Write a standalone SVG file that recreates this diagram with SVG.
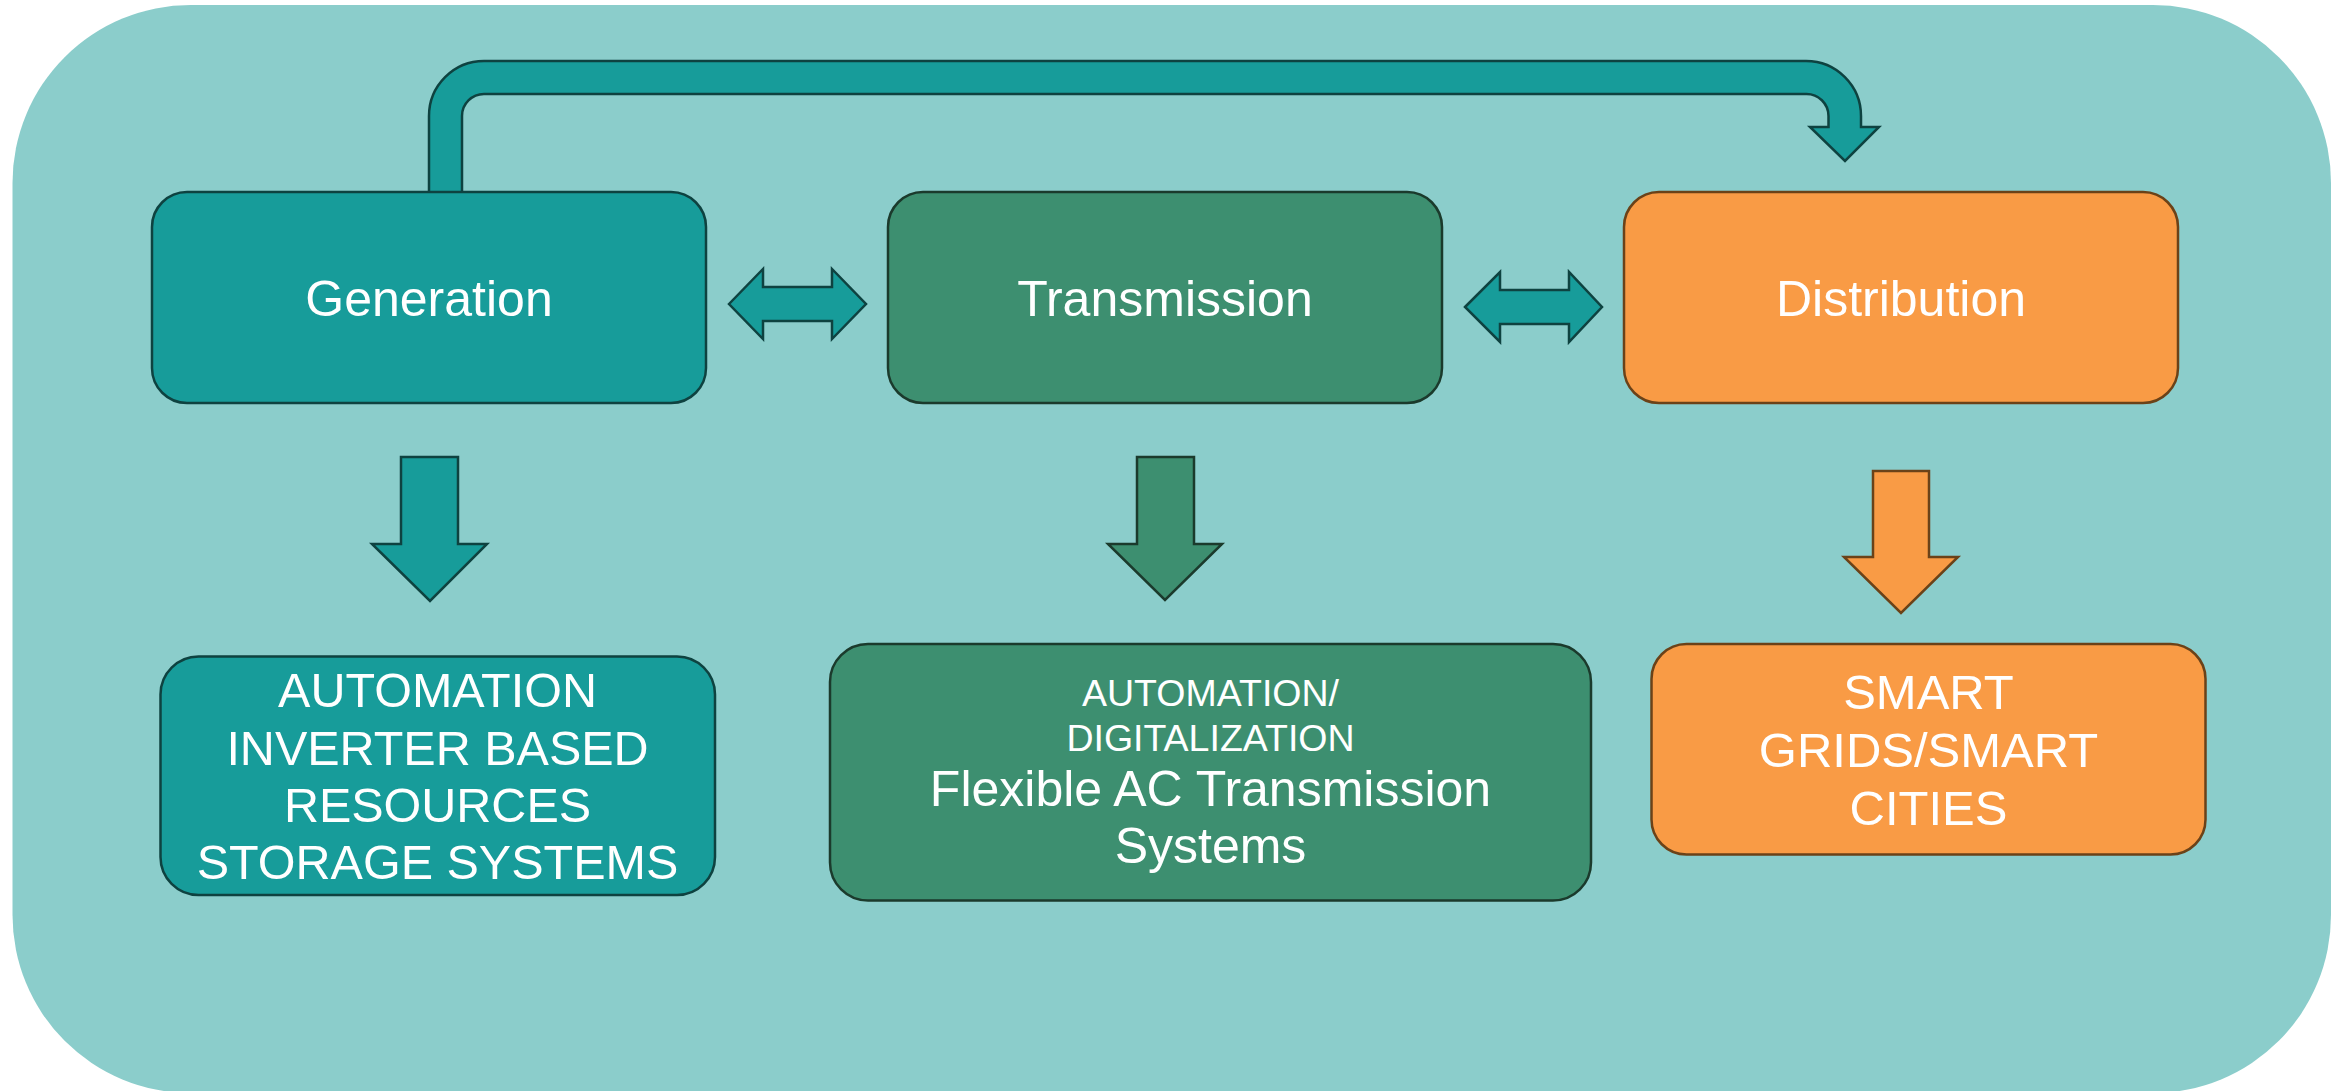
<svg xmlns="http://www.w3.org/2000/svg" width="2346" height="1091" viewBox="0 0 2346 1091">
<style>
.teal{fill:#179C9A;stroke:#0E4240;stroke-width:2.5;stroke-linejoin:miter}
.green{fill:#3D8F70;stroke:#1B3A2C;stroke-width:2.5}
.orange{fill:#F99B45;stroke:#6B4218;stroke-width:2.5}
text{font-family:"Liberation Sans",Arial,Helvetica,sans-serif;fill:#FFFFFF;text-anchor:middle}
.t50{font-size:50px}
.t48{font-size:48.5px}
.t49{font-size:49px}
.t37{font-size:37.5px}
</style>
<rect x="12.5" y="5" width="2318.5" height="1088" rx="178" ry="178" fill="#8BCDCB"/>
<g id="connectors">
  <path class="teal" d="M429,192 V116 A55,55 0 0 1 484,61 H1806 A55,55 0 0 1 1861,116 V127 H1879 L1845,161 L1810,127 H1828.5 V116 A22,22 0 0 0 1806,94 H484 A22,22 0 0 0 462,116 V192"/>
  <path class="teal" d="M729,304 L763,269 V287 H832 V269 L866,304 L832,339 V321 H763 V339 Z"/>
  <path class="teal" d="M1465,307 L1500,272 V290 H1569 V272 L1602,307 L1569,342 V324 H1500 V342 Z"/>
  <path class="teal" d="M401,457 H458 V544 H487 L430,601 L372,544 H401 Z"/>
  <path class="green" d="M1137,457 H1194 V544 H1222 L1165,600 L1108,544 H1137 Z"/>
  <path class="orange" d="M1873,471 H1929 V557 H1958 L1901,613 L1844,557 H1873 Z"/>
</g>
<g id="generation">
  <rect class="teal" x="152" y="192" width="554" height="211" rx="35"/>
  <text class="t50" x="429" y="315.5">Generation</text>
</g>
<g id="transmission">
  <rect class="green" x="888" y="192" width="554" height="211" rx="35"/>
  <text class="t50" x="1165" y="315.5">Transmission</text>
</g>
<g id="distribution">
  <rect class="orange" x="1624" y="192" width="554" height="211" rx="35"/>
  <text class="t50" x="1901" y="315.5">Distribution</text>
</g>
<g id="generation-tech">
  <rect class="teal" x="160.5" y="656.5" width="554.5" height="238.5" rx="38"/>
  <text class="t48" x="437.5" y="707">AUTOMATION</text>
  <text class="t48" x="437.5" y="764.5">INVERTER BASED</text>
  <text class="t48" x="437.5" y="822">RESOURCES</text>
  <text class="t48" x="437.5" y="879">STORAGE SYSTEMS</text>
</g>
<g id="transmission-tech">
  <rect class="green" x="830" y="644" width="761" height="256.5" rx="38"/>
  <text class="t37" x="1210.5" y="705.7">AUTOMATION/</text>
  <text class="t37" x="1210.5" y="750.7">DIGITALIZATION</text>
  <text class="t50" x="1210.5" y="805.7">Flexible AC Transmission</text>
  <text class="t50" x="1210.5" y="862.7">Systems</text>
</g>
<g id="distribution-tech">
  <rect class="orange" x="1651.5" y="644" width="554" height="210.5" rx="35"/>
  <text class="t49" x="1928.5" y="709">SMART</text>
  <text class="t49" x="1928.5" y="767">GRIDS/SMART</text>
  <text class="t49" x="1928.5" y="825">CITIES</text>
</g>
</svg>
